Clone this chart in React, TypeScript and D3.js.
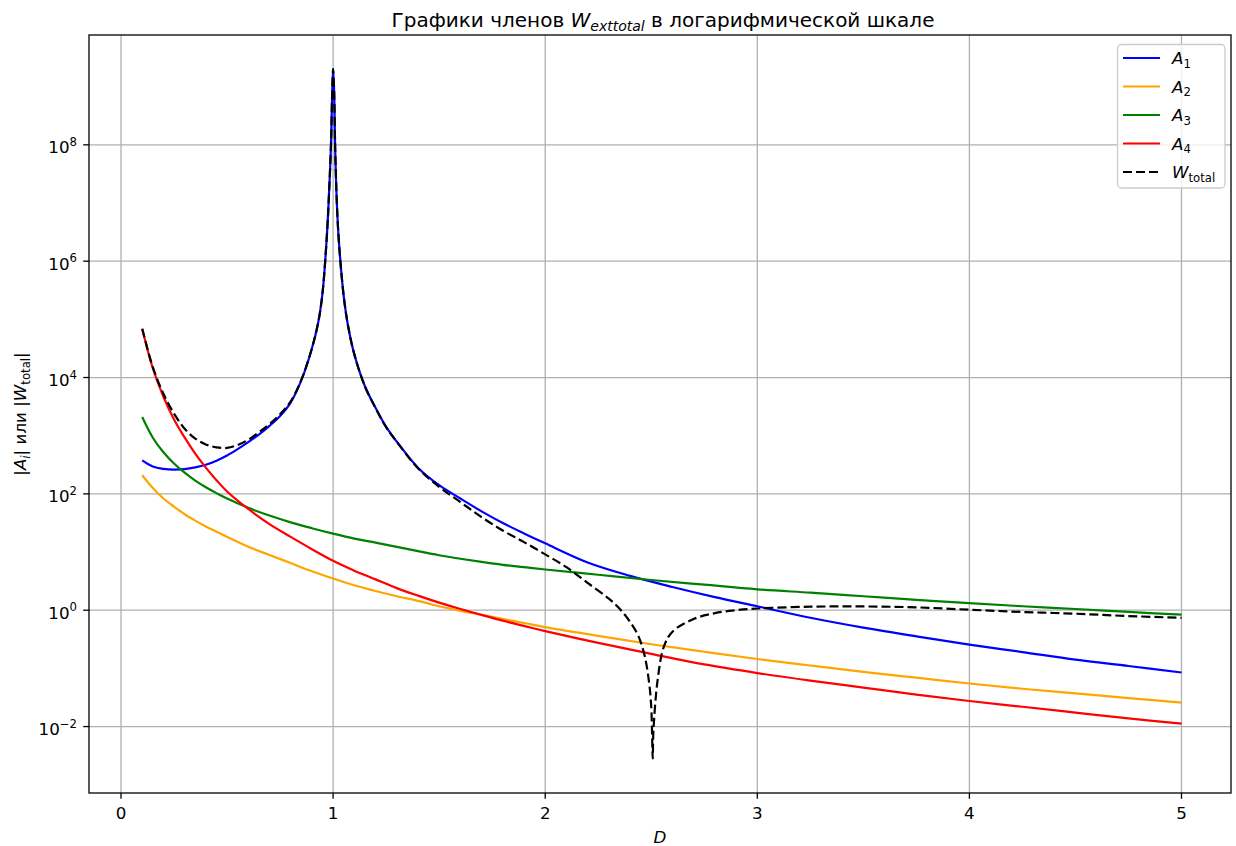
import React from 'react';
import * as d3 from 'd3';

// D grid for the smooth terms A2..A4
const dCoarse = [0.1, 0.15, 0.2, 0.25, 0.3, 0.35, 0.4, 0.45, 0.5, 0.6, 0.7, 0.8, 0.9, 1.0, 1.1, 1.2, 1.3, 1.4, 1.5, 1.6, 1.7, 1.8, 1.9, 2.0, 2.25, 2.5, 2.75, 3.0, 3.25, 3.5, 3.75, 4.0, 4.25, 4.5, 4.75, 5.0];
const a2Values = [209, 126, 83.2, 60.3, 44.7, 34.7, 27.5, 22.4, 18.2, 12.3, 8.91, 6.46, 4.68, 3.51, 2.69, 2.14, 1.74, 1.45, 1.17, 0.977, 0.832, 0.708, 0.603, 0.513, 0.363, 0.26, 0.193, 0.145, 0.112, 0.0871, 0.0692, 0.055, 0.0447, 0.0372, 0.0309, 0.0257];
const a3Values = [2089, 923, 519, 332, 231, 169, 130, 103, 83, 57.5, 42.4, 32.4, 25.7, 20.7, 17.0, 14.5, 12.3, 10.35, 8.81, 7.67, 6.76, 6.03, 5.5, 5.01, 4.07, 3.31, 2.75, 2.29, 2.0, 1.74, 1.51, 1.32, 1.17, 1.05, 0.933, 0.843];
const a4Values = [69183, 14454, 4677, 1905, 933, 490, 282, 172, 110, 55.0, 30.2, 18.2, 11.2, 7.08, 4.79, 3.39, 2.4, 1.78, 1.35, 1.05, 0.832, 0.661, 0.537, 0.437, 0.275, 0.178, 0.117, 0.0832, 0.0617, 0.0468, 0.0355, 0.0275, 0.0219, 0.0174, 0.0138, 0.0112];

// denser D grid around the resonance for A1
const dA1 = [0.1, 0.15, 0.2, 0.25, 0.3, 0.35, 0.4, 0.45, 0.5, 0.55, 0.6, 0.65, 0.7, 0.75, 0.8, 0.85, 0.9, 0.93, 0.95, 0.97, 0.98, 0.99, 0.995, 1.0, 1.005, 1.01, 1.02, 1.03, 1.05, 1.07, 1.1, 1.15, 1.2, 1.25, 1.3, 1.4, 1.5, 1.6, 1.7, 1.8, 1.9, 2.0, 2.2, 2.4, 2.6, 2.8, 3.0, 3.25, 3.5, 3.75, 4.0, 4.25, 4.5, 4.75, 5.0];
const a1Values = [376, 295, 269, 261, 266, 285, 316, 372, 457, 589, 776, 1047, 1479, 2188, 3715, 8913, 31623, 89125, 281838, 2.51e6, 1.26e7, 1.0e8, 6.31e8, 2.0e9, 7.94e8, 7.94e7, 6.31e6, 1.58e6, 2.51e5, 7.94e4, 2.51e4, 7079, 3020, 1413, 794, 282, 141, 83.2, 50.1, 31.6, 20.9, 14.1, 6.61, 3.89, 2.51, 1.68, 1.17, 0.741, 0.501, 0.355, 0.257, 0.191, 0.141, 0.11, 0.0851];

// W_total, extra points around the zero crossing
const dTotal = [0.1, 0.15, 0.2, 0.25, 0.3, 0.35, 0.4, 0.45, 0.5, 0.55, 0.6, 0.65, 0.7, 0.75, 0.8, 0.85, 0.9, 0.93, 0.95, 0.97, 0.98, 0.99, 0.995, 1.0, 1.005, 1.01, 1.02, 1.03, 1.05, 1.07, 1.1, 1.15, 1.2, 1.25, 1.3, 1.4, 1.5, 1.6, 1.7, 1.8, 1.9, 2.0, 2.1, 2.2, 2.3, 2.35, 2.4, 2.44, 2.47, 2.49, 2.5, 2.507, 2.51, 2.53, 2.56, 2.6, 2.7, 2.8, 2.9, 3.0, 3.25, 3.5, 3.75, 4.0, 4.25, 4.5, 4.75, 5.0];
const wTotalValues = [69183, 15136, 5248, 2399, 1318, 891, 708, 631, 617, 692, 851, 1148, 1585, 2344, 3890, 9120, 31623, 89125, 281838, 2.51e6, 1.26e7, 1.0e8, 6.31e8, 2.0e9, 7.94e8, 7.94e7, 6.31e6, 1.58e6, 2.51e5, 7.94e4, 2.51e4, 7050, 3000, 1400, 785, 276, 132, 72.4, 39.8, 23.4, 14.8, 9.12, 5.5, 2.95, 1.58, 1.07, 0.631, 0.355, 0.158, 0.0562, 0.0219, 0.00282, 0.00794, 0.0631, 0.24, 0.427, 0.708, 0.891, 1.0, 1.07, 1.15, 1.16, 1.12, 1.02, 0.933, 0.871, 0.794, 0.741];

const xTicks = [0, 1, 2, 3, 4, 5];
const yTickExps = [-2, 0, 2, 4, 6, 8];

const width = 1236;
const height = 846;
const plot = { left: 89, top: 35, right: 1231, bottom: 793 };
const font = 'DejaVu Sans, sans-serif';
const fs = 16.7;

export default function App() {
  const x = d3.scaleLinear().domain([-0.1509, 5.2334]).range([plot.left, plot.right]);
  const y = d3.scaleLog().domain([Math.pow(10, -3.142), Math.pow(10, 9.888)]).range([plot.bottom, plot.top]);

  const line = d3.line<[number, number]>()
    .x(d => x(d[0]))
    .y(d => y(d[1]))
    .curve(d3.curveCatmullRom.alpha(0.5));

  const series = [
    { key: 'A1', xs: dA1, ys: a1Values, color: 'blue', dash: undefined, sub: '1' },
    { key: 'A2', xs: dCoarse, ys: a2Values, color: 'orange', dash: undefined, sub: '2' },
    { key: 'A3', xs: dCoarse, ys: a3Values, color: 'green', dash: undefined, sub: '3' },
    { key: 'A4', xs: dCoarse, ys: a4Values, color: 'red', dash: undefined, sub: '4' },
    { key: 'W', xs: dTotal, ys: wTotalValues, color: 'black', dash: '9,4', sub: 'total' },
  ];

  const legendY = [58, 86.5, 115, 143.5, 172];

  return (
    <svg width={width} height={height} style={{ position: 'absolute', left: 0, top: 0, background: '#fff' }}
      fontFamily={font}>
      <defs>
        <clipPath id="plotclip">
          <rect x={plot.left} y={plot.top} width={plot.right - plot.left} height={plot.bottom - plot.top} />
        </clipPath>
      </defs>
      <rect x={0} y={0} width={width} height={height} fill="#fff" />

      {/* grid */}
      {xTicks.map(t => (
        <line key={'gx' + t} x1={x(t)} x2={x(t)} y1={plot.top} y2={plot.bottom} stroke="#b0b0b0" strokeWidth={1.3} />
      ))}
      {yTickExps.map(e => (
        <line key={'gy' + e} x1={plot.left} x2={plot.right} y1={y(Math.pow(10, e))} y2={y(Math.pow(10, e))} stroke="#b0b0b0" strokeWidth={1.3} />
      ))}

      {/* curves */}
      <g clipPath="url(#plotclip)">
        {series.map(s => (
          <path key={s.key}
            d={line(s.xs.map((v, i) => [v, s.ys[i]] as [number, number])) || ''}
            fill="none" stroke={s.color} strokeWidth={2.2} strokeDasharray={s.dash} />
        ))}
      </g>

      {/* spines */}
      <rect x={plot.left} y={plot.top} width={plot.right - plot.left} height={plot.bottom - plot.top}
        fill="none" stroke="#000" strokeWidth={1.3} />

      {/* x ticks */}
      {xTicks.map(t => (
        <g key={'tx' + t}>
          <line x1={x(t)} x2={x(t)} y1={plot.bottom} y2={plot.bottom + 5.8} stroke="#000" strokeWidth={1.3} />
          <text x={x(t)} y={819} textAnchor="middle" fontSize={fs}>{t}</text>
        </g>
      ))}

      {/* y ticks */}
      {yTickExps.map(e => {
        const yy = y(Math.pow(10, e));
        return (
          <g key={'ty' + e}>
            <line x1={plot.left - 5.8} x2={plot.left} y1={yy} y2={yy} stroke="#000" strokeWidth={1.3} />
            <text x={77} y={yy + 8.5} textAnchor="end" fontSize={fs}>
              10<tspan fontSize={11.7} dy={-7.5}>{e < 0 ? '\u2212' + Math.abs(e) : e}</tspan>
            </text>
          </g>
        );
      })}

      {/* title */}
      <text x={(plot.left + plot.right) / 2 + 3} y={27} textAnchor="middle" fontSize={20}>
        Графики членов <tspan fontStyle="italic">W</tspan>
        <tspan fontStyle="italic" fontSize={14} dy={4}>exttotal</tspan>
        <tspan dy={-4}> в логарифмической шкале</tspan>
      </text>

      {/* axis labels */}
      <text x={(plot.left + plot.right) / 2} y={843} textAnchor="middle" fontSize={fs} fontStyle="italic">D</text>
      <text transform={`translate(26,${(plot.top + plot.bottom) / 2}) rotate(-90)`} textAnchor="middle" fontSize={fs}>
        |<tspan fontStyle="italic">A</tspan><tspan fontStyle="italic" fontSize={11.7} dy={3.5}>i</tspan>
        <tspan dy={-3.5}>| или |</tspan><tspan fontStyle="italic">W</tspan>
        <tspan fontSize={11.7} dy={3.5}>total</tspan><tspan dy={-3.5}>|</tspan>
      </text>

      {/* legend */}
      <rect x={1117.5} y={44.5} width={107.5} height={143.5} rx={4} fill="#fff" fillOpacity={0.8} stroke="#cccccc" strokeWidth={1.3} />
      {series.map((s, i) => (
        <g key={'lg' + s.key}>
          <line x1={1123} x2={1160} y1={legendY[i]} y2={legendY[i]} stroke={s.color} strokeWidth={2.2} strokeDasharray={s.dash} />
          <text x={1172} y={legendY[i] + 6} fontSize={fs}>
            <tspan fontStyle="italic">{s.key === 'W' ? 'W' : 'A'}</tspan>
            <tspan fontSize={11.7} dy={3.5}>{s.sub}</tspan>
          </text>
        </g>
      ))}
    </svg>
  );
}
